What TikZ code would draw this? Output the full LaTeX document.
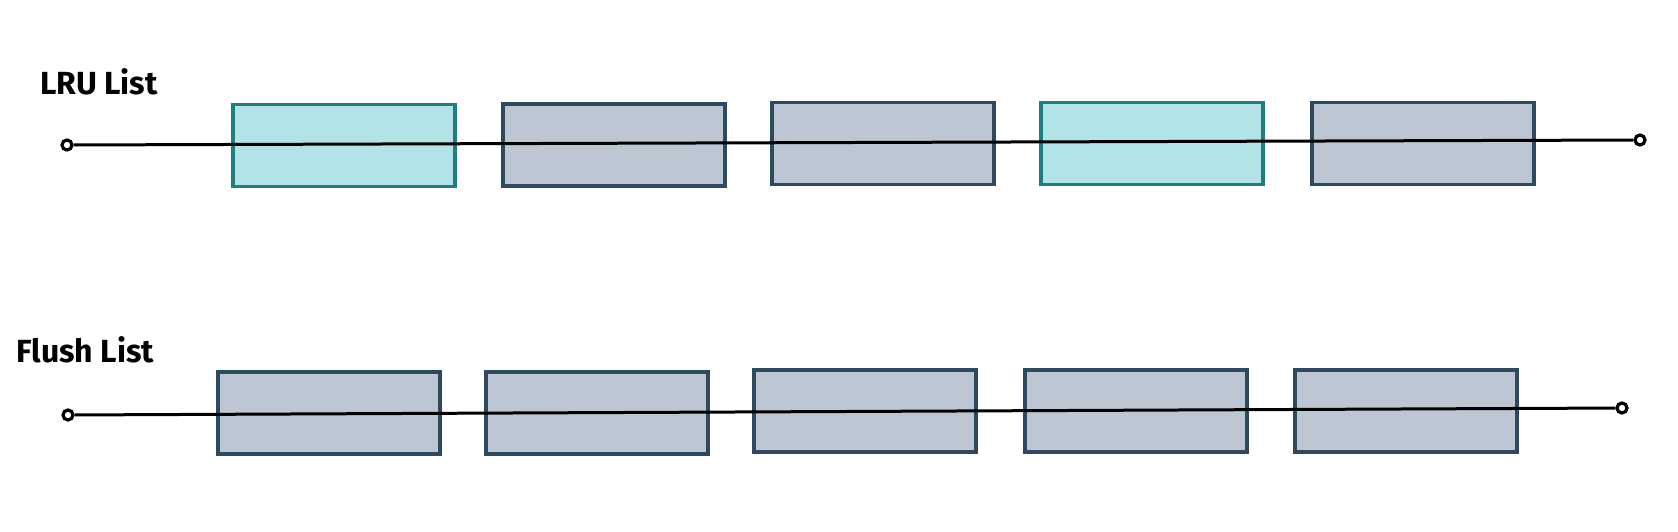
\documentclass[tikz,border=0pt]{standalone}
\usepackage{fontspec}
\setmainfont{Fira Sans}
\definecolor{cyanfill}{HTML}{B2E3E6}
\definecolor{cyanline}{HTML}{1E7F80}
\definecolor{grayfill}{HTML}{BCC7D3}
\definecolor{grayline}{HTML}{2D4A60}
\begin{document}
\begin{tikzpicture}[x=1pt,y=-1pt,
  pagebox/.style={rectangle,draw=grayline,fill=grayfill,line width=3.2pt,minimum width=222pt,minimum height=82pt,inner sep=0pt},
  hotbox/.style={pagebox,draw=cyanline,fill=cyanfill},
  endpt/.style={circle,draw=black,fill=white,line width=3.2pt,minimum size=10pt,inner sep=0pt},
  listline/.style={draw=black,line width=3pt},
  title/.style={anchor=base west,font=\bfseries\fontsize{32}{38}\selectfont,inner sep=0pt}]
\useasboundingbox (0,0) rectangle (1678,532);
% titles
\node[title] (lru) at (40,95) {LRU List};
\node[title] (flush) at (16,362) {Flush List};
% LRU list boxes
\node[hotbox]  (l1) at (344,145.5) {};
\node[pagebox] (l2) at (614,145) {};
\node[pagebox] (l3) at (883,143.5) {};
\node[hotbox]  (l4) at (1152,143.5) {};
\node[pagebox] (l5) at (1423,143.5) {};
% Flush list boxes
\node[pagebox] (f1) at (329,413) {};
\node[pagebox] (f2) at (597,413) {};
\node[pagebox] (f3) at (865,411) {};
\node[pagebox] (f4) at (1136,411) {};
\node[pagebox] (f5) at (1406,411) {};
% end points
\node[endpt] (la) at (67,145) {};
\node[endpt] (lb) at (1640,140) {};
\node[endpt] (fa) at (68,415) {};
\node[endpt] (fb) at (1622,408) {};
% list lines
\draw[listline] (la) -- (lb);
\draw[listline] (fa) -- (fb);
\end{tikzpicture}
\end{document}
